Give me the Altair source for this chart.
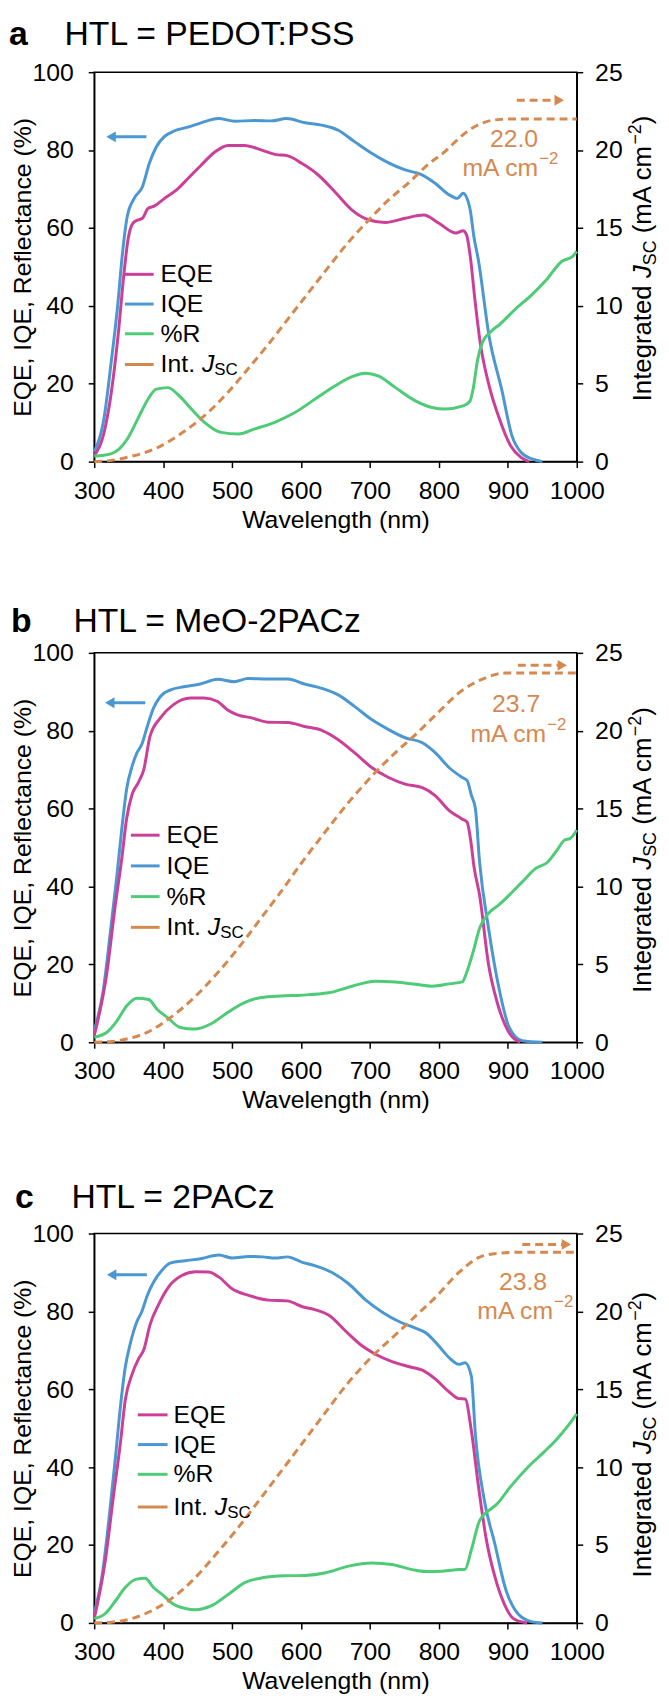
import altair as alt
import pandas as pd

FONT = "Liberation Sans"
SERIES = ["EQE", "IQE", "%R", "Jsc"]
COLORS = ["#cc3f98", "#4a97d2", "#4dcb76", "#d6894f"]
ORANGE = "#d6894f"
BLUE = "#4a97d2"
W, H = 487, 393

# ---------------- panel a : PEDOT:PSS ----------------
a_eqe_wl = [300,315,325,335,343,349,356,363,370,378,387,402,419,436,455,475,494,518,543,562,
            581,601,625,649,674,698,722,751,778,800,825,835,840,846,852,860,873,888,904,919,931]
a_eqe = [1.5,8,18,33,48,57,61.2,62,62.5,65,65.6,67.6,69.7,72.7,76.1,79.5,81.2,81.2,80,78.9,
         78.5,76.6,73.6,69.3,64.6,62.1,61.4,62.5,63.3,61.2,58.7,59.3,58.3,52,42,30.5,19.4,10.9,4.1,1.1,0]
a_iqe_wl = [300,315,324,334,341,348,358,370,380,390,402,416,436,455,480,504,533,557,579,606,
            630,654,678,703,727,751,773,795,815,827,835,845,851,857,873,891,906,919,935,950]
a_iqe = [2.5,12,24.6,40,53.5,63,67.6,70.6,76.6,80.8,83.5,84.9,85.9,87,88.1,87.4,87.6,87.5,88.1,87,
         86.4,85.1,82.1,79.1,76.7,74.9,73.8,71.4,68.5,67.6,68.9,65,57.5,52,32,18.6,6.6,2.4,0.7,0]
a_r_wl = [300,324,336,348,363,378,390,407,421,441,460,484,509,533,562,591,620,649,674,693,
          712,737,766,790,809,835,845,850,856,863,876,888,910,935,956,978,994,1000]
a_r = [1.4,2.0,3.2,5.8,10.9,16,18.6,19,17.3,13.5,10.1,7.5,7.1,8.4,10.1,12.6,16,19.4,21.8,22.7,
       22,19,15.6,13.9,13.5,14.3,15.5,19,26,30.5,33.5,35.2,39,42.9,46.7,51.4,52.7,54]
a_j_wl = [300,325,350,387,426,460,494,523,552,581,610,640,669,698,727,756,785,810,823,834,848,867,890,910,1000]
a_j = [0,0.08,0.3,0.8,1.8,2.95,4.45,5.95,7.5,9.15,10.8,12.5,14.1,15.5,16.8,17.9,19.1,19.95,20.5,20.95,
       21.4,21.8,21.97,22.0,22.0]

# ---------------- panel b : MeO-2PACz ----------------
b_eqe_wl = [300,318,330,340,347,355,364,372,381,396,415,440,459,479,493,508,528,552,581,605,
            630,654,678,703,727,751,776,795,815,834,841,846,851,859,872,884,900,918]
b_eqe = [1.7,17.4,34.4,47.2,57.4,63.7,66.7,70.1,78.6,83.3,86.7,88.4,88.4,87.5,85.4,84.1,83.3,82.2,82.1,81.1,
         80.1,77.7,74.3,70.5,68,66.3,65.4,63.3,59.5,57.3,56.5,52,45,37.8,20,10.6,3,0]
b_iqe_wl = [300,313,323,333,340,347,355,362,369,377,386,396,411,430,454,479,503,523,552,581,
            605,630,654,678,703,727,751,776,795,815,834,841,847,853,859,872,887,902,921,950]
b_iqe = [3,13.2,27.6,42.9,54.8,65,70.9,74.3,76.5,81.1,85.8,88.8,90.5,91.3,92,93.2,92.6,93.4,93.3,93.3,
         92,90.9,89.2,86.2,82.8,80.3,78.2,76.9,74.3,70.5,68,67.2,63.5,59.9,46.3,29.3,14,3.8,0.4,0]
b_r_wl = [300,318,333,347,362,379,391,406,425,445,469,493,518,542,571,600,640,674,708,737,
          766,790,815,834,840,850,859,872,887,902,921,940,958,970,983,990,1000]
b_r = [1.3,2.5,5.5,9.3,11.3,11,8.5,6.4,3.8,3.4,4.7,7.6,10.2,11.5,11.9,12.1,12.7,14.4,15.7,15.5,
       14.9,14.4,15,15.5,17.8,23.4,29.3,33.1,35.3,37.8,41.2,44.6,46.3,49,52,52.3,54.5]
b_j_wl = [300,325,347,377,411,445,479,513,542,571,600,635,669,703,737,766,795,834,865,896,1000]
b_j = [0,0.05,0.21,0.64,1.6,2.87,4.46,6.27,7.97,9.67,11.47,13.5,15.4,17.1,18.6,19.75,21.0,22.6,23.35,23.7,23.7]

# ---------------- panel c : 2PACz ----------------
c_eqe_wl = [300,316,328,338,345,355,364,372,381,393,408,427,447,466,481,500,524,553,580,602,
            621,640,665,689,708,732,757,776,795,815,829,838,847,857,869,881,894,909,928]
c_eqe = [1.1,15.9,32.7,46.2,57.2,63.9,67.7,70.2,76.6,81.6,86.3,89.2,90.2,90.1,88.8,85.8,84.1,82.9,82.7,81.2,
         80.4,79.1,74.9,71.1,69,67.1,65.8,64.9,62.6,59.3,57.6,57.5,49.5,35.6,21.2,12,5.2,1,0]
c_iqe_wl = [300,311,321,331,338,345,352,362,369,377,386,398,410,432,456,481,500,524,544,563,
            580,602,621,645,669,694,718,742,766,781,800,815,829,838,847,853,866,881,897,915,934,950]
c_iqe = [2.5,11.6,26,42.8,55.5,65.6,71.5,77.4,79.9,84.1,87.5,90.5,92.4,93,93.6,94.5,93.7,94.1,94,93.7,
         94,92.6,91.7,90,87.1,82.9,79.8,77.4,75.7,74.5,71.1,68.1,66.4,66.8,63.4,48.2,31.4,20.4,8.6,2.3,0.35,0]
c_r_wl = [300,316,331,345,360,374,386,398,418,447,471,495,519,544,577,606,636,669,703,732,
          761,781,805,829,838,847,859,872,884,903,928,953,970,988,1000]
c_r = [1.1,2.4,5.7,9.1,11.2,11.5,9.1,7.4,4.5,3.4,4.5,7.4,10.4,11.6,12.1,12.2,12.9,14.6,15.4,15,
       13.7,13.2,13.3,13.7,13.8,18.7,26.3,28.8,30.5,34.8,39.8,44,47,50.8,53.7]
c_j_wl = [300,325,345,374,408,442,476,510,539,568,602,636,669,703,737,766,795,829,860,891,920,1000]
c_j = [0,0.05,0.17,0.59,1.43,2.7,4.38,6.18,7.86,9.55,11.55,13.55,15.45,17.1,18.5,19.7,20.9,22.5,23.5,23.75,23.8,23.8]

# text / annotation content
x_ticks = [300, 400, 500, 600, 700, 800, 900, 1000]
left_ticks = [0, 20, 40, 60, 80, 100]
right_ticks = [0, 5, 10, 15, 20, 25]
legend_labels = ["EQE", "IQE", "%R", "Int."]

# Arial / Liberation Sans advance widths (1/1000 em) for laying out mixed-style text
CW = {'I': 278, 'n': 556, 't': 278, 'e': 556, 'g': 556, 'r': 333, 'a': 556, 'd': 556, ' ': 278,
      'J': 500, 'S': 667, 'C': 722, '(': 333, 'm': 833, 'A': 667, 'c': 500, ')': 333,
      '\u2212': 584, '2': 556, '.': 278}


def tw(s, fs):
    return sum(CW[ch] for ch in s) / 1000.0 * fs


PANELS = [
    dict(letter="a", title="HTL = PEDOT:PSS", eqe=(a_eqe_wl, a_eqe), iqe=(a_iqe_wl, a_iqe),
         r=(a_r_wl, a_r), j=(a_j_wl, a_j), total="22.0",
         letter_x=-86, title_x=-30, title_y=-27,
         leg_seg=(31, 60), leg_lab=67, leg_rows=[204, 234, 264, 295],
         blue=(317.5, 375.7, 83.4), orange=(913, 981.5, 23.2),
         tot_pos=(909, 82.9), unit_pos=(944, 75.4), rt_mid=188),
    dict(letter="b", title="HTL = MeO-2PACz", eqe=(b_eqe_wl, b_eqe), iqe=(b_iqe_wl, b_iqe),
         r=(b_r_wl, b_r), j=(b_j_wl, b_j), total="23.7",
         letter_x=-84, title_x=-21, title_y=-21,
         leg_seg=(37, 66), leg_lab=73, leg_rows=[184, 215, 246, 277],
         blue=(315.6, 374, 87.2), orange=(914.5, 986, 24.2),
         tot_pos=(912, 86.8), unit_pos=(955.6, 79.2), rt_mid=199),
    dict(letter="c", title="HTL = 2PACz", eqe=(c_eqe_wl, c_eqe), iqe=(c_iqe_wl, c_iqe),
         r=(c_r_wl, c_r), j=(c_j_wl, c_j), total="23.8",
         letter_x=-80, title_x=-23, title_y=-26,
         leg_seg=(44, 74), leg_lab=80, leg_rows=[183, 213, 243, 276],
         blue=(318.3, 376.4, 89.4), orange=(921, 992, 24.3),
         tot_pos=(922, 87.6), unit_pos=(965.6, 80), rt_mid=203),
]


def txt(s, x, y, **kw):
    kw.setdefault("color", "black")
    kw.setdefault("font", FONT)
    return alt.Chart(pd.DataFrame({"t": [s]})).mark_text(**kw).encode(
        x=alt.value(x), y=alt.value(y), text="t:N")


def panel(p):
    xs = alt.Scale(domain=[300, 1000], nice=False, zero=False)
    x_axis = alt.Axis(values=x_ticks, title="Wavelength (nm)", format="d", labelFlush=False,
                      labelPadding=11, titlePadding=4, tickSize=6)
    X = alt.X("wl:Q", scale=xs, axis=x_axis)
    ls = alt.Scale(domain=[0, 100], nice=False)
    rs = alt.Scale(domain=[0, 25], nice=False)
    left_axis = alt.Axis(values=left_ticks, title="EQE, IQE, Reflectance (%)", labelFlush=False,
                         labelPadding=15, titlePadding=-3, tickSize=6)
    right_axis = alt.Axis(orient="right", values=right_ticks, title=None, labelFlush=False,
                          labelPadding=12, tickSize=6)
    color = alt.Color("series:N", scale=alt.Scale(domain=SERIES, range=COLORS), legend=None)

    rows = []
    for name, key in (("IQE", "iqe"), ("EQE", "eqe"), ("%R", "r")):
        wl, v = p[key]
        rows += [{"wl": a, "val": b, "series": name} for a, b in zip(wl, v)]
    df = pd.DataFrame(rows)
    jdf = pd.DataFrame({"wl": p["j"][0], "j": p["j"][1]})

    layers = []
    layers.append(alt.Chart(df).mark_line(strokeWidth=3, interpolate="monotone").encode(
        x=X, y=alt.Y("val:Q", scale=ls, axis=left_axis), color=color))
    layers.append(alt.Chart(jdf).mark_line(strokeWidth=3, strokeDash=[8, 5], interpolate="monotone",
                                           color=ORANGE).encode(
        x=X, y=alt.Y("j:Q", scale=rs, axis=right_axis)))

    # blue arrow (points to left axis)
    tip, tail, yv = p["blue"]
    layers.append(alt.Chart(pd.DataFrame({"wl": [tip + 9], "wl2": [tail], "val": [yv]})).mark_rule(
        color=BLUE, strokeWidth=3).encode(x=X, x2="wl2:Q", y=alt.Y("val:Q", scale=ls, axis=None)))
    layers.append(alt.Chart(pd.DataFrame({"wl": [tip + 7], "val": [yv]})).mark_point(
        shape="triangle-left", filled=True, size=120, color=BLUE, opacity=1).encode(
        x=X, y=alt.Y("val:Q", scale=ls, axis=None)))
    # orange dashed arrow (points to right axis)
    tail, tip, yv = p["orange"]
    layers.append(alt.Chart(pd.DataFrame({"wl": [tail], "wl2": [tip - 9], "j": [yv]})).mark_rule(
        color=ORANGE, strokeWidth=3, strokeDash=[8, 5]).encode(
        x=X, x2="wl2:Q", y=alt.Y("j:Q", scale=rs, axis=None)))
    layers.append(alt.Chart(pd.DataFrame({"wl": [tip - 7], "j": [yv]})).mark_point(
        shape="triangle-right", filled=True, size=120, color=ORANGE, opacity=1).encode(
        x=X, y=alt.Y("j:Q", scale=rs, axis=None)))

    # integrated Jsc value
    tx, ty = p["tot_pos"]
    layers.append(alt.Chart(pd.DataFrame({"wl": [tx], "val": [ty], "t": [p["total"]]})).mark_text(
        font=FONT, fontSize=25, color=ORANGE, align="center", baseline="middle").encode(
        x=X, y=alt.Y("val:Q", scale=ls, axis=None), text="t:N"))
    ux, uy = p["unit_pos"]
    layers.append(alt.Chart(pd.DataFrame({"wl": [ux], "val": [uy], "t": ["mA cm"]})).mark_text(
        font=FONT, fontSize=25, color=ORANGE, align="right", baseline="middle").encode(
        x=X, y=alt.Y("val:Q", scale=ls, axis=None), text="t:N"))
    layers.append(alt.Chart(pd.DataFrame({"wl": [ux], "val": [uy], "t": ["\u22122"]})).mark_text(
        font=FONT, fontSize=17, color=ORANGE, align="left", baseline="middle", dx=1, dy=-9).encode(
        x=X, y=alt.Y("val:Q", scale=ls, axis=None), text="t:N"))

    # legend
    ldf = pd.DataFrame({"series": SERIES, "label": legend_labels, "py": p["leg_rows"]})
    s0, s1 = p["leg_seg"]
    layers.append(alt.Chart(ldf).mark_rule(strokeWidth=3).encode(
        x=alt.value(s0), x2=alt.value(s1), y=alt.Y("py:Q", scale=None), color=color))
    lx = p["leg_lab"]
    layers.append(alt.Chart(ldf).mark_text(font=FONT, fontSize=25, align="left", baseline="middle",
                                           color="black").encode(
        x=alt.value(lx), y=alt.Y("py:Q", scale=None), text="label:N"))
    jy = p["leg_rows"][3]
    jx = lx + tw("Int. ", 25)
    layers.append(txt("J", jx, jy, fontSize=25, fontStyle="italic", align="left", baseline="middle"))
    layers.append(txt("SC", jx + tw("J", 25), jy + 6, fontSize=17, align="left", baseline="middle"))

    # panel title
    layers.append(txt(p["letter"], p["letter_x"], p["title_y"], fontSize=34, fontWeight="bold",
                      align="left", baseline="alphabetic"))
    layers.append(txt(p["title"], p["title_x"], p["title_y"], fontSize=34,
                      align="left", baseline="alphabetic"))

    # right axis title: Integrated J_SC (mA cm^-2), rotated
    fs, fss = 26, 18
    bx = W + 75
    o_int = 0
    o_j = o_int + tw("Integrated ", fs)
    o_sc = o_j + tw("J", fs)
    o_par = o_sc + tw("SC", fss) + tw(" ", fs)
    o_sup = o_par + tw("(mA cm", fs)
    o_close = o_sup + tw("\u22122", fss)
    total_len = o_close + tw(")", fs)
    y0 = p["rt_mid"] + total_len / 2
    rot = dict(angle=270, align="left", baseline="alphabetic")
    layers.append(txt("Integrated", bx, y0 - o_int, fontSize=fs, **rot))
    layers.append(txt("J", bx, y0 - o_j, fontSize=fs, fontStyle="italic", **rot))
    layers.append(txt("SC", bx + 5, y0 - o_sc, fontSize=fss, **rot))
    layers.append(txt("(mA cm", bx, y0 - o_par, fontSize=fs, **rot))
    layers.append(txt("\u22122", bx - 10, y0 - o_sup, fontSize=fss, **rot))
    layers.append(txt(")", bx, y0 - o_close, fontSize=fs, **rot))

    return alt.layer(*layers).resolve_scale(y="independent").properties(width=W, height=H)


charts = [panel(p) for p in PANELS]
chart = alt.vconcat(*charts, spacing=193, bounds="flush").properties(
    padding={"left": 0, "top": 2, "right": 0, "bottom": 0}
).configure_view(stroke="black", strokeWidth=1.5).configure_axis(
    domainColor="black", domainWidth=1.5, tickColor="black", tickWidth=1.5,
    labelColor="black", titleColor="black", labelFont=FONT, titleFont=FONT,
    labelFontSize=25, titleFontSize=25, titleFontWeight="normal", grid=False)

chart.save("out.html", embed_options={"renderer": "svg", "actions": False})
